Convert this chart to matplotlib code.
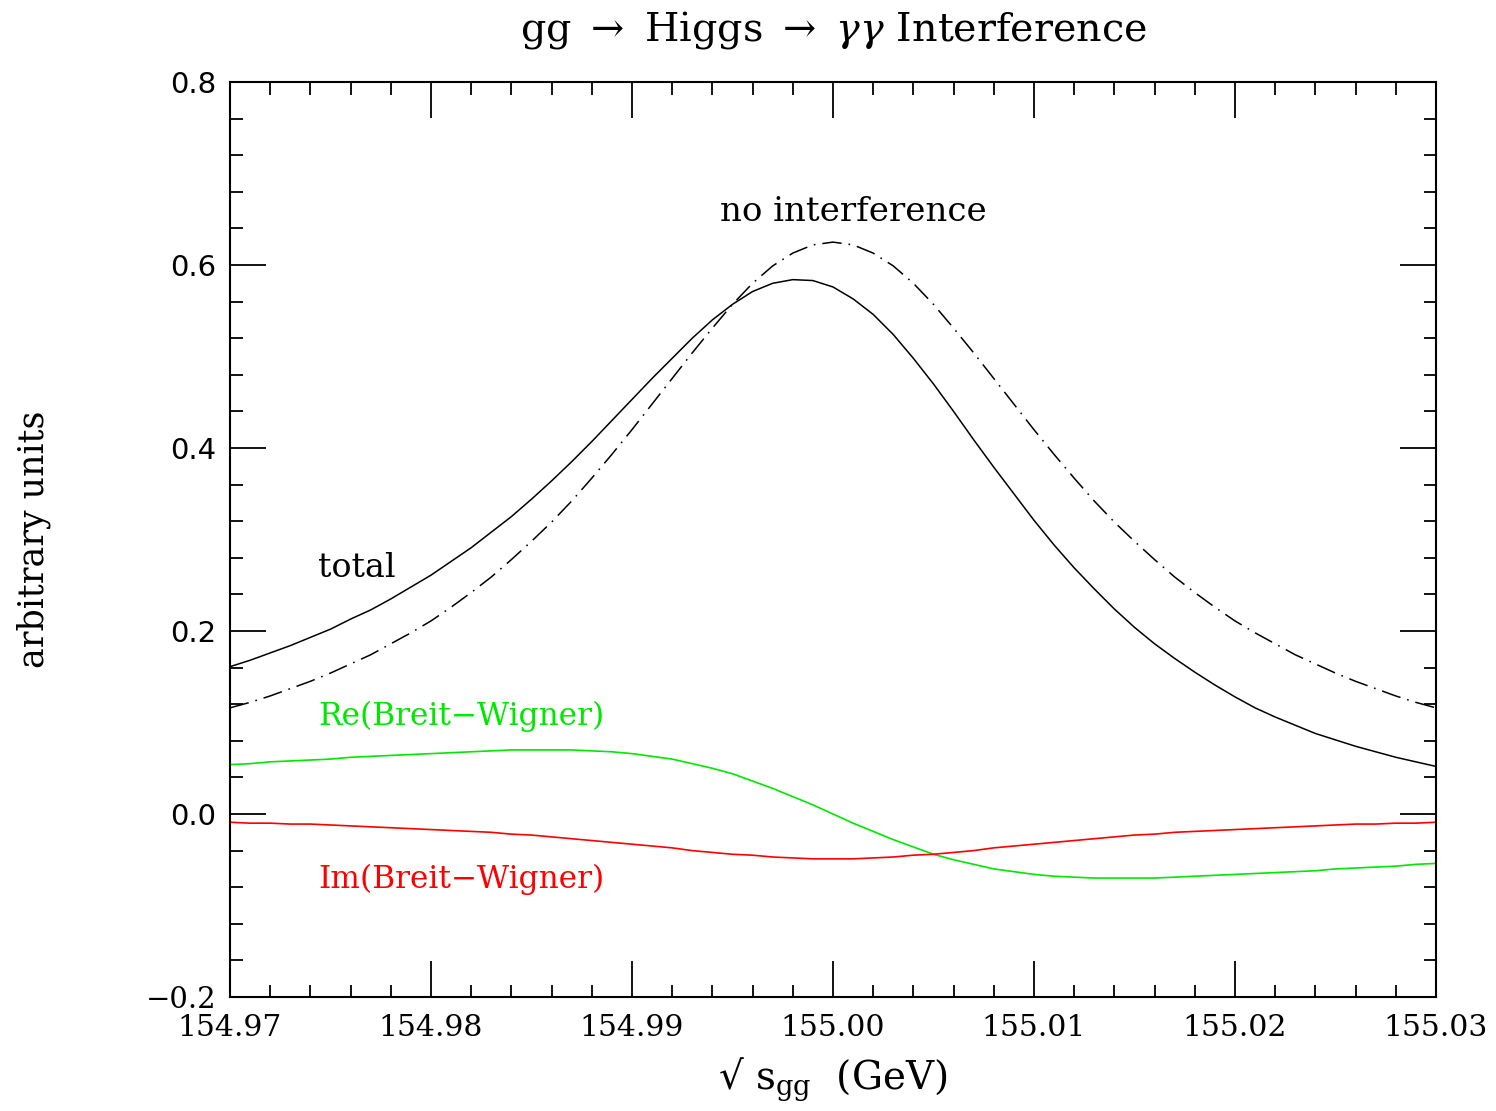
import numpy as np
import matplotlib
matplotlib.use('Agg')
import matplotlib.pyplot as plt
from matplotlib.ticker import MultipleLocator

plt.rcParams['font.family'] = ['DejaVu Serif']
plt.rcParams['mathtext.fontset'] = 'dejavuserif'
plt.rcParams['lines.scale_dashes'] = False

# sqrt(s_gg) grid, 1 MeV steps (GeV)
sqrt_s = np.round(np.arange(154.970, 155.0305, 0.001), 3)

# values
total = [0.161, 0.168, 0.176, 0.184, 0.193, 0.202, 0.213, 0.223, 0.235, 0.248,
         0.261, 0.276, 0.291, 0.308, 0.325, 0.344, 0.364, 0.385, 0.407, 0.430,
         0.453, 0.476, 0.498, 0.520, 0.540, 0.557, 0.571, 0.580, 0.584, 0.583,
         0.576,
         0.563, 0.546, 0.524, 0.498, 0.470, 0.440, 0.409, 0.379, 0.350, 0.321,
         0.294, 0.269, 0.246, 0.224, 0.204, 0.186, 0.170, 0.155, 0.141, 0.128,
         0.116, 0.106, 0.097, 0.088, 0.081, 0.074, 0.068, 0.062, 0.057, 0.052]

no_interference = [0.116, 0.122, 0.129, 0.137, 0.145, 0.154, 0.164, 0.174, 0.186, 0.198,
                   0.211, 0.226, 0.242, 0.259, 0.278, 0.298, 0.319, 0.342, 0.367, 0.393,
                   0.420, 0.448, 0.476, 0.504, 0.531, 0.557, 0.580, 0.599, 0.613, 0.622,
                   0.625,
                   0.622, 0.613, 0.599, 0.580, 0.557, 0.531, 0.504, 0.476, 0.448, 0.420,
                   0.393, 0.367, 0.342, 0.319, 0.298, 0.278, 0.259, 0.242, 0.226, 0.211,
                   0.198, 0.186, 0.174, 0.164, 0.154, 0.145, 0.137, 0.129, 0.122, 0.116]

re_bw = [0.054, 0.055, 0.057, 0.058, 0.059, 0.060, 0.062, 0.063, 0.064, 0.065,
         0.066, 0.067, 0.068, 0.069, 0.070, 0.070, 0.070, 0.070, 0.069, 0.068,
         0.066, 0.063, 0.060, 0.055, 0.050, 0.044, 0.036, 0.028, 0.019, 0.010,
         0.000,
         -0.010, -0.019, -0.028, -0.036, -0.044, -0.050, -0.055, -0.060, -0.063, -0.066,
         -0.068, -0.069, -0.070, -0.070, -0.070, -0.070, -0.069, -0.068, -0.067, -0.066,
         -0.065, -0.064, -0.063, -0.062, -0.060, -0.059, -0.058, -0.057, -0.055, -0.054]

im_bw = [-0.009, -0.010, -0.010, -0.011, -0.011, -0.012, -0.013, -0.014, -0.015, -0.016,
         -0.017, -0.018, -0.019, -0.020, -0.022, -0.023, -0.025, -0.027, -0.029, -0.031,
         -0.033, -0.035, -0.037, -0.040, -0.042, -0.044, -0.045, -0.047, -0.048, -0.049,
         -0.049,
         -0.049, -0.048, -0.047, -0.045, -0.044, -0.042, -0.040, -0.037, -0.035, -0.033,
         -0.031, -0.029, -0.027, -0.025, -0.023, -0.022, -0.020, -0.019, -0.018, -0.017,
         -0.016, -0.015, -0.014, -0.013, -0.012, -0.011, -0.011, -0.010, -0.010, -0.009]

x_ticks = [154.97, 154.98, 154.99, 155.00, 155.01, 155.02, 155.03]
x_ticklabels = ['154.97', '154.98', '154.99', '155.00', '155.01', '155.02', '155.03']
y_ticks = [-0.2, 0.0, 0.2, 0.4, 0.6, 0.8]
y_ticklabels = ['\u22120.2', '0.0', '0.2', '0.4', '0.6', '0.8']

fig = plt.figure(figsize=(14.96, 11.11), dpi=100)
ax = fig.add_axes([0.1537, 0.1026, 0.8062, 0.8236])

ax.plot(sqrt_s, total, color='black', lw=1.1)
ax.plot(sqrt_s, no_interference, color='black', lw=1.1, dashes=(14, 5, 1.2, 5))
ax.plot(sqrt_s, re_bw, color='#00e800', lw=1.2)
ax.plot(sqrt_s, im_bw, color='#ff0000', lw=1.2)

ax.set_xlim(154.97, 155.03)
ax.set_ylim(-0.2, 0.8)

ax.set_xticks(x_ticks)
ax.set_xticklabels(x_ticklabels)
ax.set_yticks(y_ticks)
ax.set_yticklabels(y_ticklabels)
ax.xaxis.set_minor_locator(MultipleLocator(0.002))
ax.yaxis.set_minor_locator(MultipleLocator(0.04))

ax.tick_params(which='both', direction='in', top=True, right=True, width=1.3)
ax.tick_params(which='major', length=26)
ax.tick_params(which='minor', length=9)
ax.tick_params(axis='x', which='major', labelsize=21.5, pad=12)
ax.tick_params(axis='y', which='major', labelsize=21, pad=10)
for lab in ax.get_yticklabels():
    if lab.get_text().startswith('\u2212'):
        lab.set_fontfamily('DejaVu Serif')
    else:
        lab.set_fontfamily('DejaVu Sans')
for sp in ax.spines.values():
    sp.set_linewidth(1.5)

# curve labels
ax.text(154.9944, 0.658, 'no interference', fontsize=24.5, va='center', ha='left')
ax.text(154.9744, 0.269, 'total', fontsize=24, va='center', ha='left')
ax.text(154.9744, 0.107, 'Re(Breit\u2212Wigner)', fontsize=22.5, va='center', ha='left', color='#00e800')
ax.text(154.9744, -0.072, 'Im(Breit\u2212Wigner)', fontsize=22.5, va='center', ha='left', color='#ff0000')

ax.set_title(r'gg $\rightarrow$ Higgs $\rightarrow$ $\gamma\gamma$ Interference', fontsize=28.5, pad=30)
ax.set_xlabel('\u221a s$_{\\mathrm{gg}}$  (GeV)', fontsize=28, labelpad=10)
ax.set_ylabel('arbitrary units', fontsize=25, labelpad=68)

fig.savefig('out.png', dpi=100)
